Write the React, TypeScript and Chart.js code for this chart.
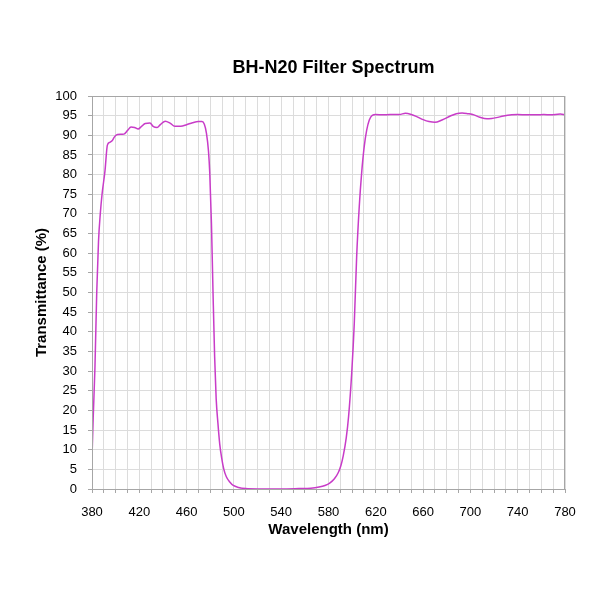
import React, { useEffect, useRef } from 'react';
import { Chart, registerables } from 'chart.js';

Chart.register(...registerables);

// wavelength (nm) sampled along the measured curve
const wavelengths: number[] = [
  380, 381, 382.5, 384, 385.5, 387, 388.5, 391, 393, 395, 397, 399, 401.5, 407, 410,
  413, 416, 419, 422, 425, 429, 432, 435, 438, 442, 446, 450, 455, 460, 465, 470,
  473, 475, 476.8, 478.5, 479.6, 481, 482.3, 483.7, 485, 486.5, 488, 489.5, 491.5,
  493.6, 496.5, 499.5, 504, 510, 520, 540, 555, 565, 572, 577, 581, 585, 588.3,
  590.5, 592.5, 595, 597, 599.6, 601.8, 603.8, 606, 608, 610.2, 612.3, 614.5, 617,
  620, 626, 632, 640, 645, 650, 655, 660, 665, 670, 676, 683, 688, 693, 698, 703,
  708, 714, 718, 722, 728, 735, 740, 748, 756, 762, 768, 776, 780,
];

// transmittance (%)
const transmittance: number[] = [
  8, 18, 31, 50, 63, 70, 75, 81, 87.5, 88.2, 88.6, 89.6, 90.2, 90.3, 91.2,
  92.1, 92, 91.6, 92.3, 93, 93.1, 92.2, 92, 92.8, 93.6, 93.1, 92.3, 92.3, 92.7, 93.2, 93.5,
  93.5, 92.8, 90.5, 86, 80.3, 67.6, 50.6, 33.7, 23, 16.7, 11.5, 8.2, 5,
  3.1, 1.8, 0.9, 0.4, 0.1, 0, 0, 0.1, 0.2, 0.5, 0.9, 1.5, 2.6, 4.2,
  6, 8.5, 13, 18.5, 29.4, 42.2, 59, 71.8, 80.3, 87.1, 91.3, 93.9, 95.1,
  95.3, 95.2, 95.3, 95.3, 95.6, 95.3, 94.7, 94, 93.5, 93.3, 93.9, 94.9, 95.5, 95.7, 95.5, 95.2,
  94.6, 94.2, 94.3, 94.5, 94.9, 95.2, 95.3, 95.2, 95.2, 95.3, 95.2, 95.4, 95.2,
];

const xMin = 380;
const xMax = 780;
const xLabelStep = 40;
const yTickStep = 5;

const chartTitle = 'BH-N20 Filter Spectrum';

// title centred over the plot area + darker frame around it
const frameAndTitle = {
  id: 'frameAndTitle',
  afterDraw(chart: Chart) {
    const { ctx, chartArea } = chart;
    ctx.save();
    ctx.strokeStyle = '#a6a6a6';
    ctx.lineWidth = 1;
    ctx.strokeRect(chartArea.left + 0.5, chartArea.top + 0.5, chartArea.width - 1, chartArea.height);
    ctx.fillStyle = '#000';
    ctx.font = 'bold 18px "Liberation Sans", Arial, sans-serif';
    ctx.textAlign = 'center';
    ctx.textBaseline = 'middle';
    ctx.fillText(chartTitle, (chartArea.left + chartArea.right) / 2 + 5, 68);
    ctx.restore();
  },
};

const App: React.FC = () => {
  const canvasRef = useRef<HTMLCanvasElement>(null);
  const chartRef = useRef<Chart | null>(null);

  useEffect(() => {
    if (!canvasRef.current) return;
    const ctx = canvasRef.current.getContext('2d');
    if (!ctx) return;

    if (chartRef.current) chartRef.current.destroy();

    const points = wavelengths.map((w, i) => ({ x: w, y: transmittance[i] }));
    const font = '"Liberation Sans", Arial, sans-serif';

    chartRef.current = new Chart(ctx, {
      type: 'line',
      data: {
        datasets: [
          {
            data: points,
            borderColor: '#c83cc8',
            borderWidth: 1.5,
            pointRadius: 0,
            cubicInterpolationMode: 'monotone',
            fill: false,
          },
        ],
      },
      options: {
        animation: false,
        responsive: false,
        layout: { padding: { top: 96, right: 35, left: 0, bottom: 0 } },
        plugins: {
          legend: { display: false },
          tooltip: { enabled: false },
        },
        scales: {
          x: {
            type: 'linear',
            min: xMin,
            max: xMax,
            afterFit: (scale: any) => {
              scale.height = 111;
            },
            grid: { color: '#dcdcdc', tickLength: 4, tickColor: '#a6a6a6' },
            border: { color: '#a6a6a6' },
            ticks: {
              stepSize: 10,
              autoSkip: false,
              maxRotation: 0,
              padding: 12,
              color: '#000',
              font: { family: font, size: 13 },
              callback: (v: any) => ((Number(v) - xMin) % xLabelStep === 0 ? String(v) : ''),
            },
            title: {
              display: true,
              text: 'Wavelength (nm)',
              color: '#000',
              font: { family: font, size: 15, weight: 'bold' },
              padding: { top: 0, bottom: 61 },
            },
          },
          y: {
            min: 0,
            max: 100,
            afterFit: (scale: any) => {
              scale.width = 92;
            },
            grid: { color: '#dcdcdc', tickLength: 4, tickColor: '#a6a6a6' },
            border: { color: '#a6a6a6' },
            ticks: {
              stepSize: yTickStep,
              autoSkip: false,
              padding: 11,
              color: '#000',
              font: { family: font, size: 13 },
            },
            title: {
              display: true,
              text: 'Transmittance (%)',
              color: '#000',
              font: { family: font, size: 15, weight: 'bold' },
              padding: { top: 33, bottom: 0 },
            },
          },
        },
      },
      plugins: [frameAndTitle],
    });

    return () => {
      if (chartRef.current) {
        chartRef.current.destroy();
        chartRef.current = null;
      }
    };
  }, []);

  return (
    <div style={{ position: 'absolute', left: 0, top: 0, width: 600, height: 600, background: '#fff' }}>
      <canvas ref={canvasRef} width={600} height={600}></canvas>
    </div>
  );
};

export default App;
